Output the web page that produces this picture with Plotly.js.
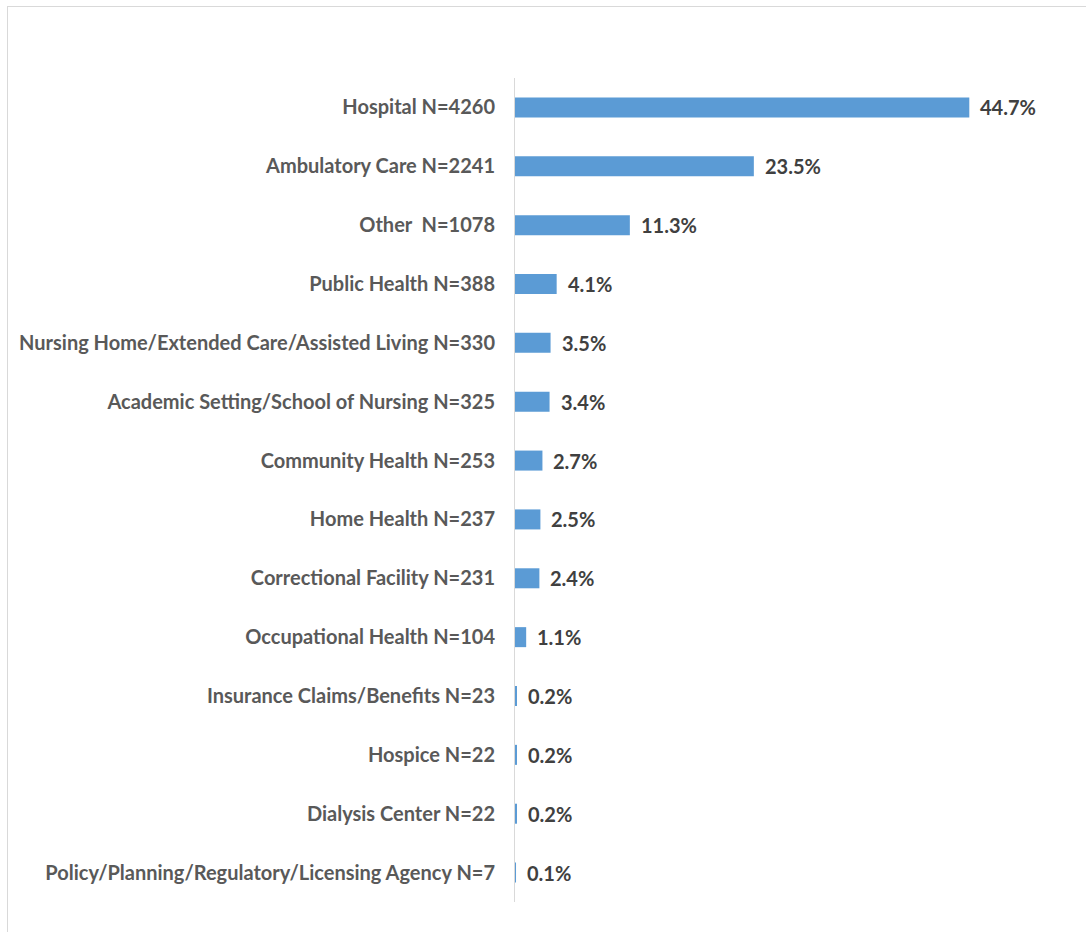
<!DOCTYPE html>
<html>
<head>
<meta charset="utf-8">
<script src="https://cdn.plot.ly/plotly-3.0.1.min.js"></script>
<style>
  html, body { margin: 0; padding: 0; background: #fff; }
  #chart { position: absolute; left: 0; top: 0; width: 1086px; height: 932px; }
  #frame { position: absolute; left: 7px; top: 6px; width: 1079px; height: 926px;
           border-left: 1px solid #d9d9d9; border-top: 1px solid #d9d9d9; pointer-events: none; }
</style>
</head>
<body>
<div id="chart"></div>
<div id="frame"></div>
<script>
const categories = [
  "Hospital N=4260",
  "Ambulatory Care N=2241",
  "Other  N=1078",
  "Public Health N=388",
  "Nursing Home/Extended Care/Assisted Living N=330",
  "Academic Setting/School of Nursing N=325",
  "Community Health N=253",
  "Home Health N=237",
  "Correctional Facility N=231",
  "Occupational Health N=104",
  "Insurance Claims/Benefits N=23",
  "Hospice N=22",
  "Dialysis Center N=22",
  "Policy/Planning/Regulatory/Licensing Agency N=7"
];
const percents = [44.7, 23.5, 11.3, 4.1, 3.5, 3.4, 2.7, 2.5, 2.4, 1.1, 0.2, 0.2, 0.2, 0.1];
const valueLabels = percents.map(v => v.toFixed(1) + "%");

const FONT = "Lato, 'Open Sans', sans-serif";

const trace = {
  type: "bar",
  orientation: "h",
  y: categories,
  x: percents,
  marker: { color: "#5B9BD5", line: { width: 0 } },
  hoverinfo: "none"
};

const annotations = categories.map((c, i) => ({
  x: percents[i],
  y: c,
  xref: "x",
  yref: "y",
  text: valueLabels[i],
  showarrow: false,
  xanchor: "left",
  yanchor: "middle",
  xshift: 9,
  font: { family: FONT, size: 20, color: "#404040", weight: "bold" }
}));

const layout = {
  width: 1086,
  height: 932,
  margin: { l: 515, r: 12, t: 78, b: 30 },
  paper_bgcolor: "#ffffff",
  plot_bgcolor: "#ffffff",
  showlegend: false,
  bargap: 0.66,
  font: { family: FONT, color: "#595959" },
  annotations: annotations,
  xaxis: {
    range: [0, 55],
    showgrid: false, zeroline: false, showticklabels: false, showline: false, ticks: ""
  },
  yaxis: {
    autorange: "reversed",
    showgrid: false, zeroline: false,
    showline: true, linecolor: "#d9d9d9", linewidth: 1,
    ticks: "", ticklabelstandoff: 15,
    tickfont: { family: FONT, size: 20, color: "#595959", weight: "bold" }
  }
};

Plotly.newPlot("chart", [trace], layout, { displayModeBar: false, staticPlot: true });
</script>
</body>
</html>
